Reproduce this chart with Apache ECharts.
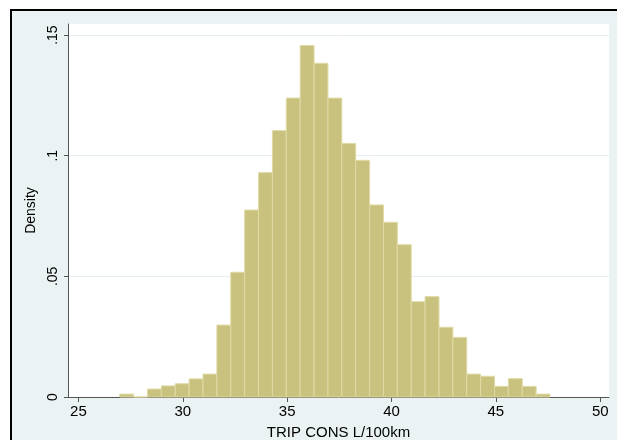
<!DOCTYPE html>
<html>
<head>
<meta charset="utf-8">
<script src="https://cdn.jsdelivr.net/npm/echarts@6/dist/echarts.min.js"></script>
<style>html,body{margin:0;padding:0;background:#fff;}#c{width:617px;height:440px;}</style>
</head>
<body>
<div id="c"></div>
<script>
// Histogram bin edges (TRIP CONS L/100km)
const binEdges = [26.98, 27.645, 28.31, 28.975, 29.64, 30.305, 30.97, 31.635, 32.30, 32.965,
  33.63, 34.295, 34.96, 35.625, 36.29, 36.955, 37.62, 38.285, 38.95, 39.615, 40.28,
  40.945, 41.61, 42.275, 42.94, 43.605, 44.27, 44.935, 45.60, 46.265, 46.93, 47.595];
// Density of each bin
const density = [0.0012, 0, 0.0033, 0.0046, 0.0055, 0.0075, 0.0095, 0.0298, 0.0517, 0.0775,
  0.093, 0.1104, 0.1239, 0.1457, 0.1383, 0.1239, 0.1051, 0.0981, 0.0796, 0.0724,
  0.0631, 0.0395, 0.0416, 0.0289, 0.0247, 0.0095, 0.0086, 0.0044, 0.0076, 0.0044, 0.0012];
const xTicks = [25, 30, 35, 40, 45, 50];
const yTicks = [0, 0.05, 0.1, 0.15];
const yTickLabels = ['0', '.05', '.1', '.15'];
const xTitle = 'TRIP CONS L/100km';
const yTitle = 'Density';

const data = density.map((d, i) => [binEdges[i], binEdges[i + 1], d]);

const chart = echarts.init(document.getElementById('c'), null, {renderer: 'canvas'});
const font = 'Liberation Sans, Arial, sans-serif';
chart.setOption({
  animation: false,
  backgroundColor: '#ffffff',
  graphic: [{
    type: 'rect', z: -10, silent: true,
    shape: {x: 11, y: 10, width: 700, height: 500},
    style: {fill: '#EAF2F3', stroke: '#000', lineWidth: 2}
  }],
  grid: {left: 68, right: 8, top: 24, bottom: 43, show: true, backgroundColor: '#ffffff', borderWidth: 0,
    containLabel: false, outerBoundsMode: 'none'},
  xAxis: {
    type: 'value', min: 24.502, max: 50.42,
    name: xTitle, nameLocation: 'middle', nameGap: 28,
    nameTextStyle: {fontFamily: font, fontSize: 15, color: '#000'},
    axisLine: {show: true, onZero: false, lineStyle: {color: '#555', width: 1}},
    axisTick: {show: true, length: 5, customValues: xTicks, lineStyle: {color: '#555'}},
    axisLabel: {customValues: xTicks, margin: 7, fontFamily: font, fontSize: 15, color: '#000'},
    splitLine: {show: false}
  },
  yAxis: {
    type: 'value', min: 0, max: 0.1546, interval: 0.05,
    name: yTitle, nameLocation: 'middle', nameGap: 23, nameRotate: 90,
    nameTextStyle: {fontFamily: font, fontSize: 14, color: '#000'},
    axisLine: {show: true, lineStyle: {color: '#555', width: 1}},
    axisTick: {show: true, length: 4, customValues: yTicks, lineStyle: {color: '#555'}},
    axisLabel: {
      customValues: yTicks, rotate: 90, margin: 8, fontFamily: font, fontSize: 14, color: '#000',
      formatter: v => {
        for (let i = 0; i < yTicks.length; i++) if (Math.abs(v - yTicks[i]) < 1e-6) return yTickLabels[i];
        return '';
      }
    },
    splitLine: {show: true, lineStyle: {color: '#E6EFF1', width: 1}}
  },
  series: [{
    type: 'custom',
    data: data,
    encode: {x: [0, 1], y: 2},
    renderItem: (params, api) => {
      const p0 = api.coord([api.value(0), 0]);
      const p1 = api.coord([api.value(1), api.value(2)]);
      return {
        type: 'rect',
        shape: {x: p0[0], y: p1[1], width: p1[0] - p0[0], height: p0[1] - p1[1]},
        style: {fill: '#C9C27F', stroke: '#DFDAA5', lineWidth: 1}
      };
    }
  }]
});
</script>
</body>
</html>
